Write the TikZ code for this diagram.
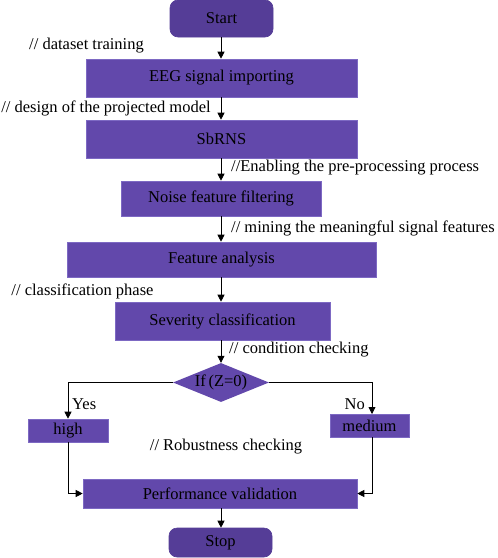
\documentclass[tikz,border=0pt]{standalone}
\usepackage{fontspec}
\setmainfont{Liberation Serif}
\usetikzlibrary{shapes.geometric,arrows.meta}
\definecolor{boxfill}{RGB}{98,72,171}
\definecolor{startfill}{RGB}{85,61,151}
\definecolor{boxedge}{RGB}{125,105,195}
\tikzset{
  box/.style={draw=boxedge,line width=0.6pt,fill=boxfill,text=black,inner sep=0pt,font=\fontsize{16.5}{19}\selectfont},
  term/.style={box,fill=startfill,draw=startfill,rounded corners=8pt},
  dec/.style={diamond,aspect=2.45,fill=boxfill,text=black,inner sep=0pt,font=\fontsize{16.5}{19}\selectfont},
  note/.style={inner sep=0pt,text=black,font=\fontsize{16.5}{19}\selectfont},
  arr/.style={-{Triangle[width=7pt,length=7pt]},line width=0.8pt}
}
\begin{document}
\begin{tikzpicture}[x=1pt,y=-1pt]
\useasboundingbox (0,0) rectangle (498,558);
\coordinate (ax) at (221,0);
\node[term,minimum width=103pt,minimum height=37pt] (start) at (221.5,18.5) {Start};
\node[box,minimum width=271pt,minimum height=38pt] (eeg) at (221.5,78) {EEG signal importing};
\node[box,minimum width=271pt,minimum height=38pt] (sbrns) at (221.5,139) {SbRNS};
\node[box,minimum width=200pt,minimum height=35pt] (noise) at (221,198.5) {Noise feature filtering};
\node[box,minimum width=309pt,minimum height=35pt] (feat) at (221.5,259.5) {Feature analysis};
\node[box,minimum width=215pt,minimum height=38pt] (sev) at (222.5,321) {Severity classification};
\node[dec,minimum width=96pt,minimum height=39pt] (cond) at (221,382.5) {If\,(Z=0)};
\node[box,minimum width=80pt,minimum height=23pt] (high) at (68,430.5) {high};
\node[box,minimum width=79pt,minimum height=23pt] (med) at (369.5,425.5) {medium};
\node[box,minimum width=274pt,minimum height=29pt] (perf) at (220,493.5) {Performance validation};
\node[term,minimum width=103pt,minimum height=29pt] (stop) at (220.5,542.5) {Stop};

\node[note] (n1) at (86.5,46) {// dataset training};
\node[note] (n2) at (106,108) {// design of the projected model};
\node[note,anchor=west] (n3) at (231,168) {//Enabling the pre-processing process};
\node[note,anchor=west] (n4) at (231,228) {// mining the meaningful signal features};
\node[note] (n5) at (82.5,291) {// classification phase};
\node[note,anchor=west] (n6) at (229,350) {// condition checking};
\node[note,anchor=west] (yes) at (72,404) {Yes};
\node[note,anchor=east] (no) at (365,404) {No};
\node[note] (n7) at (226,447) {// Robustness checking};

\coordinate (mtop) at (372,414);
\coordinate (mbot) at (372,437);
\draw[arr] (start.south -| ax) -- (eeg.north -| ax);
\draw[arr] (eeg.south -| ax) -- (sbrns.north -| ax);
\draw[arr] (sbrns.south -| ax) -- (noise.north -| ax);
\draw[arr] (noise.south -| ax) -- (feat.north -| ax);
\draw[arr] (feat.south -| ax) -- (sev.north -| ax);
\draw[arr] (sev.south -| ax) -- (cond.north);
\draw[arr] (cond.west) -| (high.north);
\draw[arr] (cond.east) -| (mtop);
\draw[arr] (high.south) |- (perf.west);
\draw[arr] (mbot) |- (perf.east);
\draw[arr] (perf.south -| ax) -- (stop.north -| ax);
\end{tikzpicture}
\end{document}
